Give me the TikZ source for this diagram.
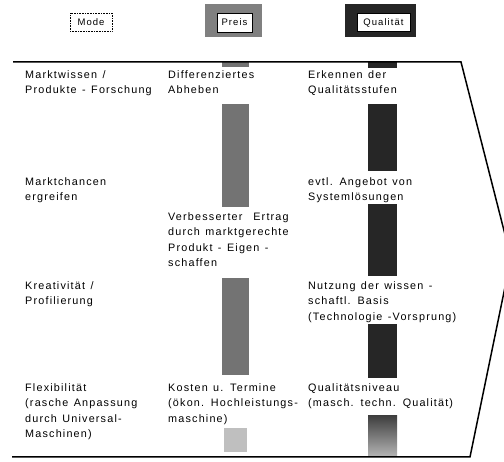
\documentclass[tikz,border=0pt]{standalone}
\usepackage{fontspec}
\setmainfont{Liberation Sans}[LetterSpace=11,WordSpace=1.3]
\usepackage{calc}
\begin{document}
\begin{tikzpicture}[x=1pt,y=-1pt,
  txt/.style={anchor=north west, inner sep=0pt, align=left, font=\fontsize{10.8}{15.6}\selectfont},
  hdr/.style={draw, fill=white, inner sep=1pt, line width=0.6pt, font=\fontsize{9.5}{11}\selectfont},
  frameline/.style={line width=1.5pt, line join=miter},
  pbar/.style={fill=black!55},
  qbar/.style={fill=black!85},
]
\useasboundingbox (0,0) rectangle (504,462);
\clip (0,0) rectangle (504,462);

% header
\node[hdr, densely dotted, minimum width=42pt, minimum height=18pt] (mode) at (91,22) {Mode};
\fill[black!50] (205,4) rectangle (262,37);
\node[hdr, minimum width=35pt, minimum height=19pt] (preis) at (234.5,22.5) {Preis};
\fill[black!85] (345,4) rectangle (416,37);
\node[hdr, minimum width=53pt, minimum height=18pt] (qual) at (383.5,22.5) {Qualität};

% bars Preis
\fill[pbar] (222,62) rectangle (249,67);
\fill[pbar] (222,104) rectangle (249,207);
\fill[pbar] (222,278) rectangle (249,375);
\fill[black!25] (224,428) rectangle (247,452);
% bars Qualitaet
\fill[qbar] (368,62) rectangle (397,68);
\fill[qbar] (368,104) rectangle (397,171);
\fill[qbar] (368,204) rectangle (397,276);
\fill[qbar] (368,324) rectangle (397,378);
\shade[top color=black!75, bottom color=black!30] (368,416) rectangle (397,456);

% frame
\draw[frameline] (13,62) -- (461,62) -- (511,258) -- (470,457) -- (12,457);

% column 1
\node[txt] (a1) at (25,67) {\strut Marktwissen /\\Produkte - Forschung};
\node[txt] (a2) at (25,174) {\strut Marktchancen\\ergreifen};
\node[txt] (a3) at (25,278) {\strut Kreativität /\\Profilierung};
\node[txt] (a4) at (25,380) {\strut Flexibilität\\(rasche Anpassung\\durch Universal-\\Maschinen)};
% column 2
\node[txt] (b1) at (168,67) {\strut Differenziertes\\Abheben};
\node[txt] (b2) at (168,209) {\strut\makebox[\widthof{durch marktgerechte}][s]{Verbesserter Ertrag}\\durch marktgerechte\\Produkt - Eigen -\\schaffen};
\node[txt] (b3) at (168,380) {\strut Kosten u. Termine\\(ökon. Hochleistungs-\\maschine)};
% column 3
\node[txt] (c1) at (308,67) {\strut Erkennen der\\Qualitätsstufen};
\node[txt] (c2) at (308,174) {\strut evtl. Angebot von\\Systemlösungen};
\node[txt] (c3) at (308,278) {\strut Nutzung der wissen -\\schaftl. Basis\\(Technologie -Vorsprung)};
\node[txt] (c4) at (308,380) {\strut Qualitätsniveau\\(masch. techn. Qualität)};
\end{tikzpicture}
\end{document}
